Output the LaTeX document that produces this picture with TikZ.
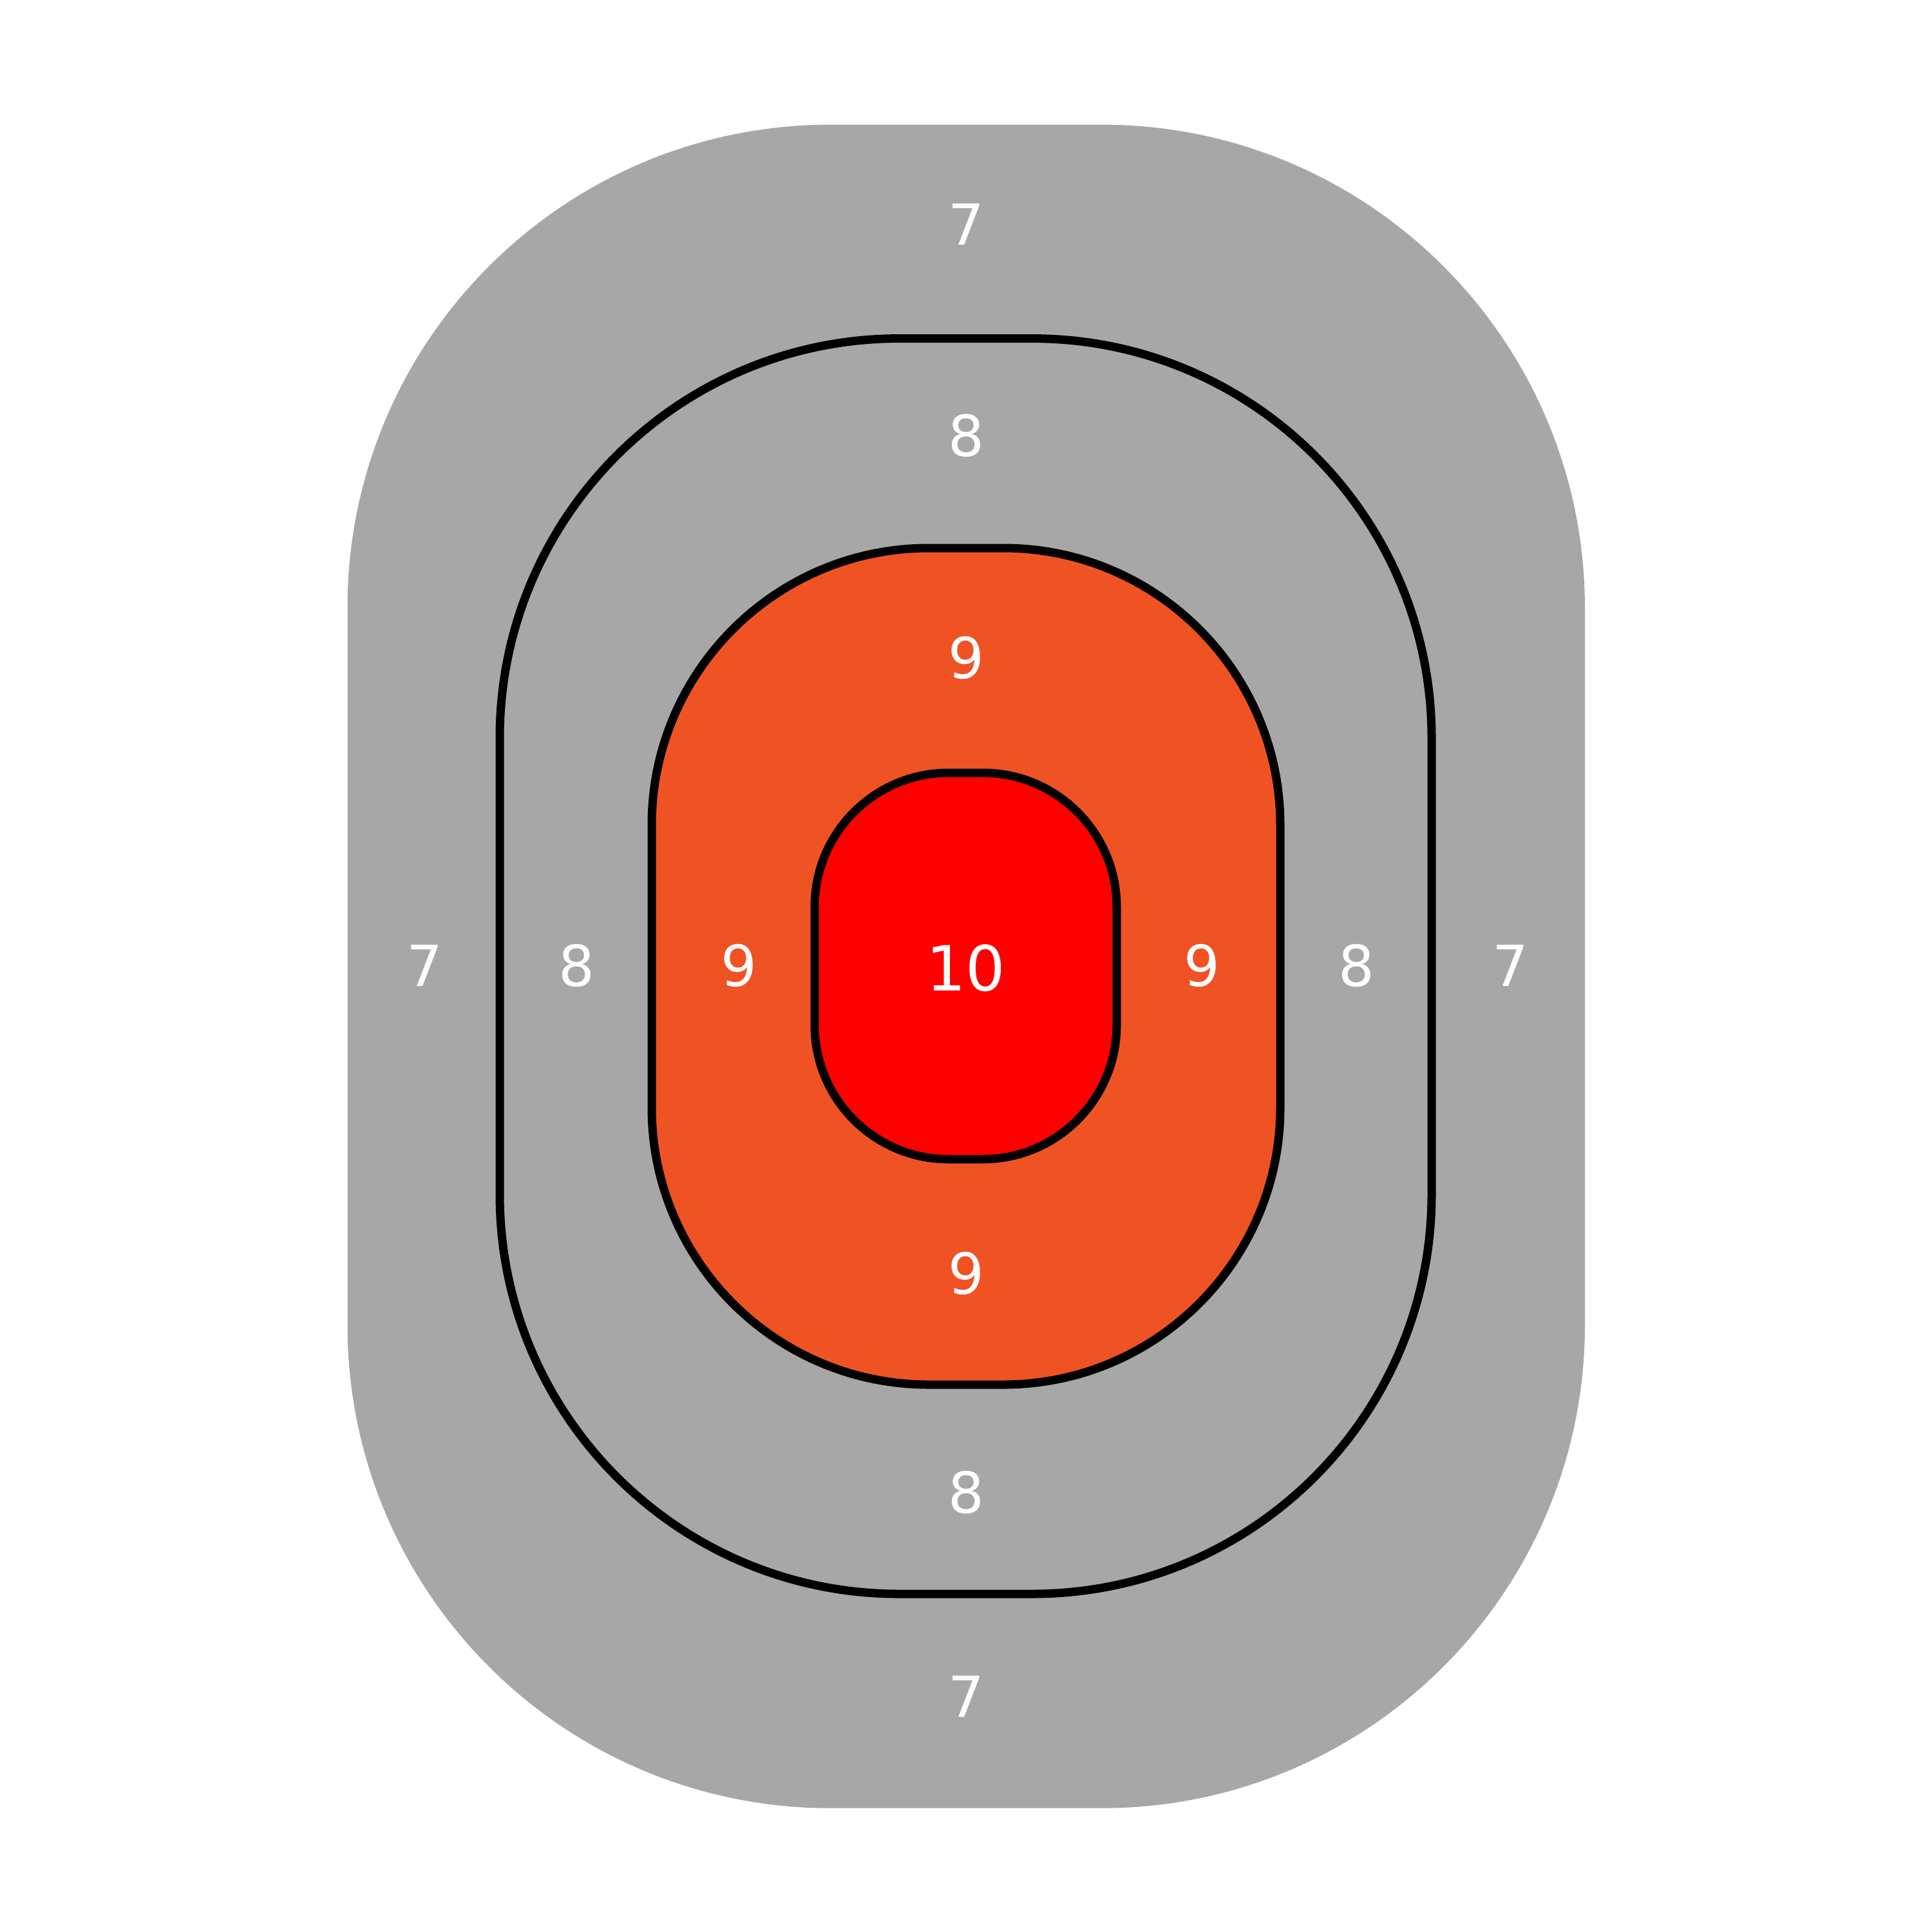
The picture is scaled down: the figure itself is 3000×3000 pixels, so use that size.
\documentclass[tikz,border=0pt]{standalone}
\usepackage{fontspec}
\setmainfont{DejaVu Sans}
\definecolor{tgrey}{RGB}{167,167,168}
\definecolor{torange}{RGB}{240,83,35}
\definecolor{tred}{RGB}{255,0,0}
\tikzset{
  zone/.style={line width=3.7pt, draw=black},
  score/.style={text=white, inner sep=0pt, font=\fontsize{25}{30}\selectfont},
  bigscore/.style={text=white, inner sep=0pt, font=\fontsize{27.5}{32}\selectfont}
}
\begin{document}
\begin{tikzpicture}[x=0.01cm,y=-0.01cm]
\useasboundingbox (0,0) rectangle (3000,3000);
% outer zone 7
\fill[tgrey, rounded corners=7.5cm] (539.5,193.6) rectangle (2461,2807.7);
% zone 8
\filldraw[zone, fill=tgrey, rounded corners=6.2cm] (776,525.6) rectangle (2223,2475);
% zone 9
\filldraw[zone, fill=torange, rounded corners=4.3cm] (1012,851) rectangle (1988,2150);
% zone 10 outer
\filldraw[zone, fill=tred, rounded corners=2.08cm] (1265,1200) rectangle (1734,1800);
% inner 10 zone
\fill[tred, rounded corners=0.78cm] (1403,1376) rectangle (1597,1624);
% labels
\node[score] (t7) at (1500,348) {7};
\node[score] (t8) at (1500,676) {8};
\node[score] (t9) at (1500,1021) {9};
\node[bigscore] (c10) at (1500,1503) {10};
\node[score] (b9) at (1500,1977) {9};
\node[score] (b8) at (1500,2317) {8};
\node[score] (b7) at (1500,2634) {7};
\node[score] (l7) at (659,1499) {7};
\node[score] (l8) at (895,1499) {8};
\node[score] (l9) at (1147,1499) {9};
\node[score] (r9) at (1866,1499) {9};
\node[score] (r8) at (2106,1499) {8};
\node[score] (r7) at (2345,1499) {7};
\end{tikzpicture}
\end{document}
